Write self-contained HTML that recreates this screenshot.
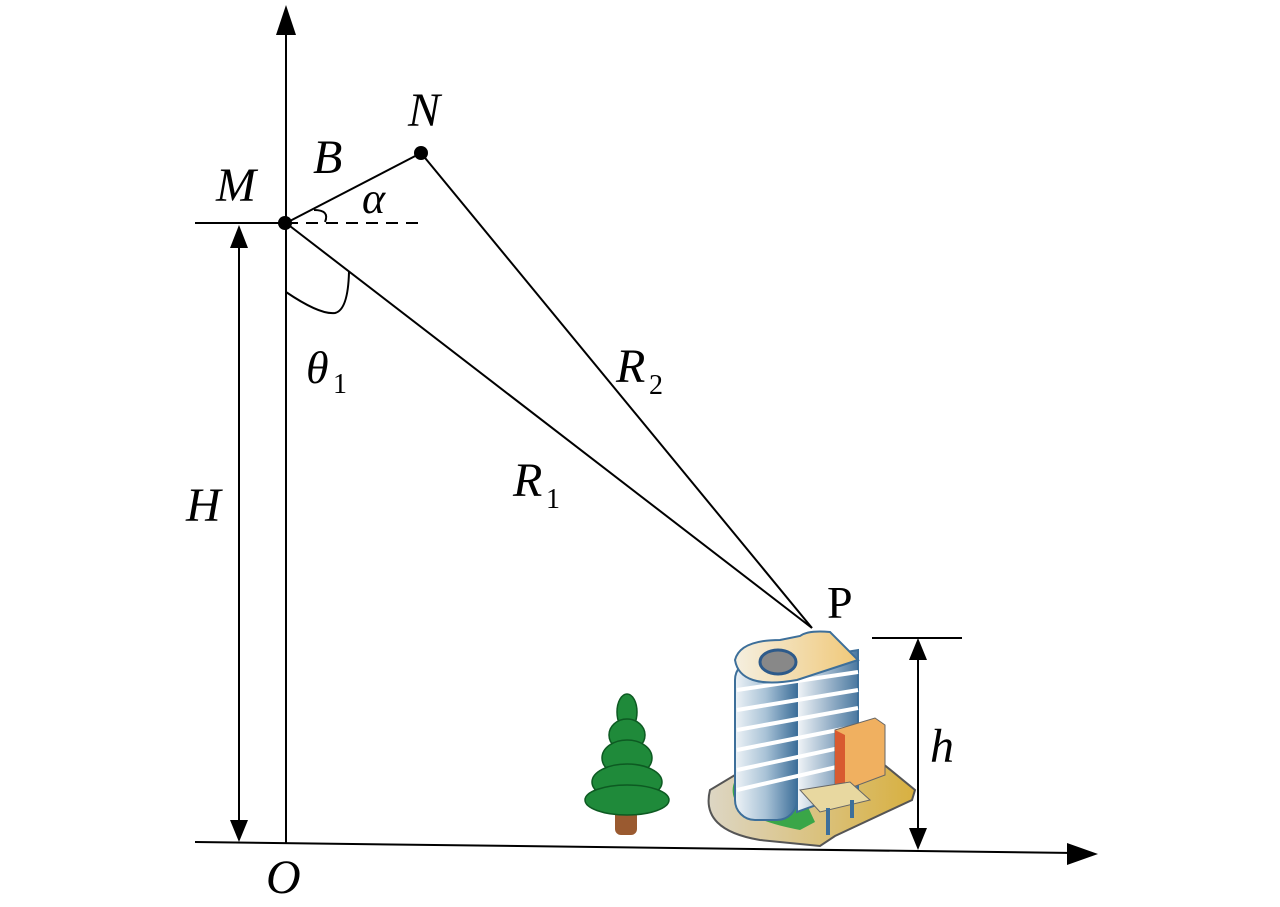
<!DOCTYPE html>
<html><head><meta charset="utf-8"><style>
html,body{margin:0;padding:0;background:#fff;}
svg{display:block;}
text{font-family:"Liberation Serif",serif;fill:#000;}
.i{font-style:italic;}
.n{font-style:normal;}
</style></head><body>
<svg width="1280" height="907" viewBox="0 0 1280 907" xmlns="http://www.w3.org/2000/svg">
<defs>
<linearGradient id="bld" x1="0" x2="1"><stop offset="0" stop-color="#eef3f7"/><stop offset="0.5" stop-color="#a8c2d6"/><stop offset="1" stop-color="#3d6f9a"/></linearGradient>
<linearGradient id="bld2" x1="0" x2="1"><stop offset="0" stop-color="#f2f5f8"/><stop offset="1" stop-color="#4a78a0"/></linearGradient>
<linearGradient id="top" x1="0" x2="1"><stop offset="0" stop-color="#f5efe0"/><stop offset="1" stop-color="#f0c878"/></linearGradient>
<linearGradient id="base" x1="0" x2="1"><stop offset="0" stop-color="#ddd6c4"/><stop offset="1" stop-color="#d8b040"/></linearGradient>
</defs>
<g stroke="#000" stroke-width="2" fill="none">
<line x1="286" y1="843" x2="286" y2="30"/>
<line x1="195" y1="842" x2="1075" y2="853"/>
<line x1="195" y1="223" x2="286" y2="223"/>
<line x1="286" y1="223" x2="418" y2="223" stroke-dasharray="12,8"/>
<line x1="286" y1="223" x2="421" y2="153"/>
<line x1="421" y1="153" x2="812" y2="628"/>
<line x1="286" y1="223" x2="812" y2="628"/>
<line x1="239" y1="248" x2="239" y2="820"/>
<line x1="872" y1="638" x2="962" y2="638"/>
<line x1="918" y1="660" x2="918" y2="828"/>
<path d="M286,292 Q320,315 335,313 Q348,310 349,272"/>
<path d="M314,210 Q330,210 325,222"/>
</g>
<g fill="#000">
<polygon points="286,5 276,35 296,35"/>
<polygon points="1098,854 1067,843 1067,865"/>
<polygon points="239,225 230,248 248,248"/>
<polygon points="239,842 230,820 248,820"/>
<polygon points="918,638 909,660 927,660"/>
<polygon points="918,850 909,828 927,828"/>
<circle cx="285" cy="223" r="7"/>
<circle cx="421" cy="153" r="7"/>
</g>
<text class="i" x="216" y="201" font-size="48">M</text>
<text class="i" x="313" y="173" font-size="48">B</text>
<text class="i" x="408" y="126" font-size="48">N</text>
<text class="i" x="362" y="213" font-size="44">α</text>
<text class="i" x="306" y="383" font-size="46">θ</text><text class="n" x="333" y="393" font-size="28">1</text>
<text class="i" x="616" y="382" font-size="48">R</text><text class="n" x="649" y="394" font-size="28">2</text>
<text class="i" x="513" y="496" font-size="48">R</text><text class="n" x="546" y="508" font-size="28">1</text>
<text class="i" x="186" y="521" font-size="48">H</text>
<text class="n" x="827" y="618" font-size="46">P</text>
<text class="i" x="930" y="762" font-size="48">h</text>
<text class="i" x="266" y="893" font-size="48">O</text>
<!-- tree -->
<rect x="615" y="805" width="22" height="30" rx="6" fill="#9a5a30"/>
<g fill="#1f8a3a" stroke="#0d5a22" stroke-width="1.5">
<ellipse cx="627" cy="712" rx="10" ry="18"/>
<ellipse cx="627" cy="735" rx="18" ry="16"/>
<ellipse cx="627" cy="758" rx="25" ry="18"/>
<ellipse cx="627" cy="782" rx="35" ry="18"/>
<ellipse cx="627" cy="800" rx="42" ry="15"/>
</g>
<!-- building -->
<path d="M710,790 Q700,830 760,840 L820,846 L835,836 L912,800 L915,790 L860,745 L760,760 Z" fill="url(#base)" stroke="#555" stroke-width="2"/>
<path d="M735,780 Q720,815 800,830 L815,822 L800,790 Z" fill="#3aa648"/>
<rect x="735" y="660" width="62" height="160" rx="20" fill="url(#bld)" stroke="#3d6f9a" stroke-width="2"/>
<polygon points="797,660 858,650 858,790 797,812" fill="url(#bld2)" stroke="#3d6f9a" stroke-width="2"/>
<g stroke="#fff" stroke-width="4">
<line x1="737" y1="690" x2="858" y2="672"/><line x1="737" y1="710" x2="858" y2="690"/><line x1="737" y1="730" x2="858" y2="708"/><line x1="737" y1="750" x2="858" y2="726"/><line x1="737" y1="770" x2="858" y2="744"/><line x1="737" y1="790" x2="858" y2="762"/>
</g>
<path d="M735,660 Q740,640 780,640 L800,636 Q808,630 830,632 L858,660 L797,680 Q740,690 735,660 Z" fill="url(#top)" stroke="#3d6f9a" stroke-width="2"/>
<ellipse cx="778" cy="662" rx="18" ry="12" fill="#888" stroke="#2d5a8a" stroke-width="3"/>
<polygon points="835,730 875,718 885,725 885,775 845,790 835,785" fill="#f0b060" stroke="#666"/>
<polygon points="835,730 845,735 845,790 835,785" fill="#d85a30"/>
<polygon points="800,790 850,782 870,800 820,812" fill="#e8d8a0" stroke="#666"/>
<line x1="828" y1="808" x2="828" y2="835" stroke="#3d6f9a" stroke-width="4"/>
<line x1="852" y1="800" x2="852" y2="818" stroke="#3d6f9a" stroke-width="4"/>
</svg>
</body></html>
